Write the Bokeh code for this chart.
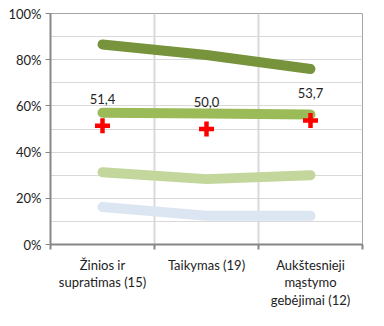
from bokeh.plotting import figure
from bokeh.models import (Range1d, LinearAxis, FixedTicker, NumeralTickFormatter,
                          ColumnDataSource, Grid)
from bokeh.core.properties import value
from bokeh.embed import file_html
from bokeh.resources import INLINE

categories = ["Žinios ir\nsupratimas (15)", "Taikymas (19)", "Aukštesnieji\nmąstymo\ngebėjimai (12)"]
series_top = [86.6, 82.0, 76.0]
series_upper = [57.0, 56.7, 56.3]
series_lower = [31.3, 28.3, 30.0]
series_bottom = [16.2, 12.4, 12.4]
avg_values = [51.4, 50.0, 53.7]
avg_labels = ["51,4", "50,0", "53,7"]
y_ticks = [0, 20, 40, 60, 80, 100]

FONT = "Lato"
xs = [i + 0.5 for i in range(len(categories))]
bounds = list(range(len(categories) + 1))

p = figure(width=368, height=310, output_backend="svg", toolbar_location=None,
           x_range=Range1d(0, 3), y_range=Range1d(0, 100),
           min_border_left=50, min_border_right=6, min_border_top=13, min_border_bottom=10,
           x_axis_type=None, y_axis_type=None)
p.background_fill_color = "white"
p.border_fill_color = "white"
p.outline_line_color = "#A6A6A6"
p.outline_line_width = 1

# y axis
yax = LinearAxis(ticker=FixedTicker(ticks=y_ticks, minor_ticks=list(range(0, 101, 10))),
                 formatter=NumeralTickFormatter(format="0"))
yax.major_label_overrides = {t: f"{t}%" for t in y_ticks}
yax.axis_line_color = "#868686"
yax.axis_line_width = 2
yax.major_tick_line_color = "#868686"
yax.major_tick_in = 0
yax.major_tick_out = 5
yax.minor_tick_line_color = None
yax.major_label_text_font = FONT
yax.major_label_text_font_size = "13px"
yax.major_label_text_color = "#222222"
yax.major_label_standoff = 4
p.add_layout(yax, "left")

# x axis: labels at category centres, tick marks at boundaries (as minor ticks)
xax = LinearAxis(ticker=FixedTicker(ticks=xs, minor_ticks=bounds))
xax.major_label_overrides = {x: c for x, c in zip(xs, categories)}
xax.axis_line_color = "#868686"
xax.axis_line_width = 2
xax.major_tick_line_color = None
xax.major_tick_in = 0
xax.major_tick_out = 0
xax.minor_tick_line_color = "#868686"
xax.minor_tick_line_width = 2
xax.minor_tick_in = 0
xax.minor_tick_out = 5
xax.major_label_text_font = FONT
xax.major_label_text_font_size = "13px"
xax.major_label_text_color = "#222222"
xax.major_label_standoff = 7
xax.major_label_text_line_height = 1.1
p.add_layout(xax, "below")

# grids
vg = Grid(dimension=0, ticker=FixedTicker(ticks=bounds), grid_line_color="#D9D9D9", grid_line_width=2)
hg = Grid(dimension=1, ticker=yax.ticker, grid_line_color="#D9D9D9", grid_line_width=1,
          minor_grid_line_color="#D9D9D9", minor_grid_line_width=1)
p.add_layout(vg)
p.add_layout(hg)

src = ColumnDataSource(dict(x=xs, top=series_top, upper=series_upper, lower=series_lower,
                            bottom=series_bottom, avg=avg_values, lbl=avg_labels))

p.line("x", "bottom", source=src, line_color="#DCE6F2", line_width=10, line_cap="round", line_join="round")
p.line("x", "lower", source=src, line_color="#C3D69B", line_width=10, line_cap="round", line_join="round")
p.line("x", "upper", source=src, line_color="#9BBB59", line_width=10, line_cap="round", line_join="round")
p.line("x", "top", source=src, line_color="#77933C", line_width=10, line_cap="round", line_join="round")

p.scatter("x", "avg", source=src, marker="cross", size=15, line_color="#FF0000", line_width=4.5)
p.text("x", "avg", text="lbl", source=src, text_font=value(FONT), text_font_size="13px",
       text_color="#222222", text_align="center", text_baseline="middle", y_offset=-27)

open("out.html", "w").write(file_html(p, INLINE))
